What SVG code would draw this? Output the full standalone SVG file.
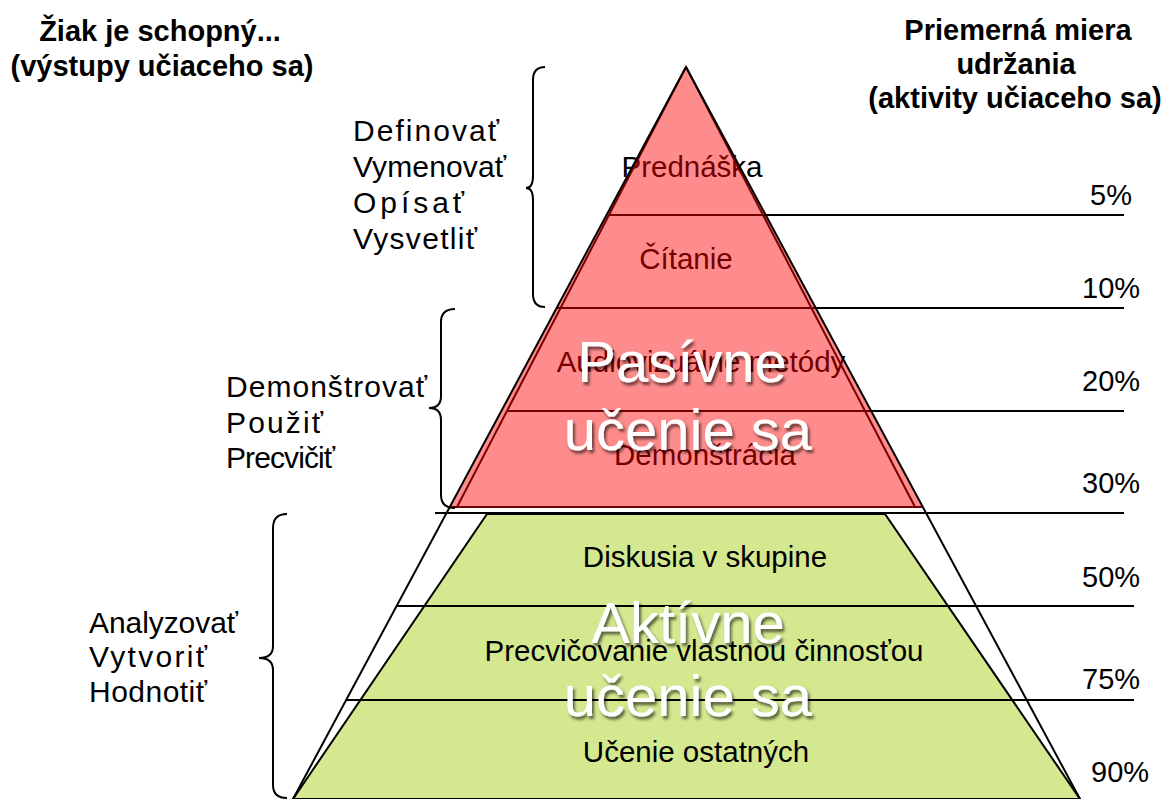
<svg xmlns="http://www.w3.org/2000/svg" width="1170" height="799" viewBox="0 0 1170 799">
<defs>
<style>
text{font-family:"Liberation Sans",Arial,sans-serif;fill:#000}
.hdr{font-size:29px;font-weight:bold}
.lbl{font-size:30px}
.pct{font-size:29px}
.lvl{font-size:29.5px;text-anchor:middle}
.big{font-size:58px;fill:#fff;text-anchor:middle;filter:url(#sh)}
.ln{stroke:#000;stroke-width:2;fill:none}
.br{stroke:#000;stroke-width:2;fill:none}
</style>
<filter id="sh" x="-10%" y="-20%" width="130%" height="150%">
<feDropShadow dx="2" dy="3" stdDeviation="1.8" flood-color="#000" flood-opacity="0.6"/>
</filter>
</defs>
<rect width="1170" height="799" fill="#fff"/>

<g id="active-zone">
<polygon points="487,514 885,514 1080,799 293,799" fill="#D3E88F" stroke="#000" stroke-width="2"/>
</g>

<g id="connectors">
<line class="ln" x1="609" y1="215" x2="1124" y2="215"/>
<line class="ln" x1="556" y1="308" x2="1124" y2="308"/>
<line class="ln" x1="508" y1="411" x2="1124" y2="411"/>
<line class="ln" x1="435" y1="513" x2="1124" y2="513"/>
<line class="ln" x1="397" y1="606" x2="1134" y2="606"/>
<line class="ln" x1="346" y1="700" x2="1134" y2="700"/>
<line class="ln" x1="449" y1="507" x2="923" y2="507"/>
</g>

<g id="levels">
<text class="lvl" x="692" y="177">Prednáška</text>
<text class="lvl" x="686" y="269">Čítanie</text>
<text class="lvl" x="701" y="372">Audiovizuálne metódy</text>
<text class="lvl" x="705" y="465">Demonštrácia</text>
<text class="lvl" x="705" y="567">Diskusia v skupine</text>
<text class="lvl" x="704" y="661">Precvičovanie vlastnou činnosťou</text>
<text class="lvl" x="696" y="762">Učenie ostatných</text>
</g>

<g id="passive-zone">
<polygon points="686,67 449,508 923,508" fill="#FF0000" fill-opacity="0.45"/>
<polyline points="457,507 686,67 915,507" fill="none" stroke="#7a0000" stroke-width="2"/>
</g>

<g id="outline">
<line class="ln" x1="686" y1="67" x2="293" y2="799"/>
<line class="ln" x1="686" y1="67" x2="1080" y2="799"/>
</g>

<g id="big-labels">
<text class="big" x="682" y="382">Pasívne</text>
<text class="big" x="688" y="450">učenie sa</text>
<text class="big" x="688" y="643">Aktívne</text>
<text class="big" x="688" y="716">učenie sa</text>
</g>

<g id="header-left">
<text class="hdr" x="160" y="41" text-anchor="middle">Žiak je schopný...</text>
<text class="hdr" x="162" y="76" text-anchor="middle">(výstupy učiaceho sa)</text>
</g>

<g id="header-right">
<text class="hdr" x="1018" y="40" text-anchor="middle">Priemerná miera</text>
<text class="hdr" x="1016" y="74" text-anchor="middle">udržania</text>
<text class="hdr" x="1015" y="108" text-anchor="middle">(aktivity učiaceho sa)</text>
</g>

<g id="group-1">
<path class="br" d="M545,67 Q533,67 533,80 L533,176 Q533,188 526,188 Q533,188 533,200 L533,294 Q533,307 545,307"/>
<text class="lbl" x="353" y="141" textLength="146">Definovať</text>
<text class="lbl" x="353" y="177" textLength="153">Vymenovať</text>
<text class="lbl" x="353" y="213" textLength="111">Opísať</text>
<text class="lbl" x="353" y="249" textLength="124">Vysvetliť</text>
</g>

<g id="group-2">
<path class="br" d="M455,309 Q441,309 441,322 L441,396 Q441,408 429,408 Q441,408 441,420 L441,495 Q441,508 455,508"/>
<text class="lbl" x="226" y="397" textLength="201">Demonštrovať</text>
<text class="lbl" x="226" y="433" textLength="97">Použiť</text>
<text class="lbl" x="226" y="468" textLength="109">Precvičiť</text>
</g>

<g id="group-3">
<path class="br" d="M287,514 Q273,514 273,528 L273,646 Q273,658 259,658 Q273,658 273,670 L273,785 Q273,798 287,798"/>
<text class="lbl" x="89" y="633" textLength="149">Analyzovať</text>
<text class="lbl" x="89" y="667" textLength="118">Vytvoriť</text>
<text class="lbl" x="89" y="702" textLength="118">Hodnotiť</text>
</g>

<g id="percentages">
<text class="pct" x="1090" y="205">5%</text>
<text class="pct" x="1082" y="298">10%</text>
<text class="pct" x="1082" y="391">20%</text>
<text class="pct" x="1082" y="493">30%</text>
<text class="pct" x="1082" y="587">50%</text>
<text class="pct" x="1082" y="689">75%</text>
<text class="pct" x="1091" y="782">90%</text>
</g>
</svg>
